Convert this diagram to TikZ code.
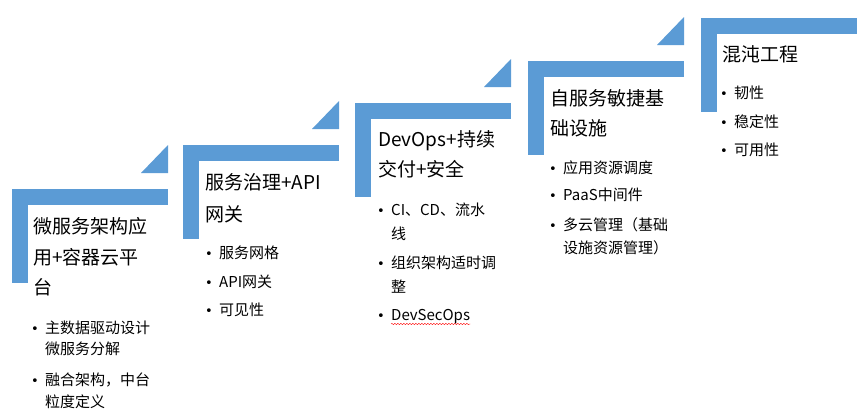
\documentclass[tikz,border=0pt]{standalone}
\usepackage{fontspec}
\setmainfont{Noto Sans CJK SC}
\newfontfamily\dotfont{DejaVu Sans}
\usetikzlibrary{decorations.pathmorphing}
\definecolor{stepblue}{HTML}{5B9BD5}
\newcommand{\bul}{\makebox[14pt][l]{\dotfont\fontsize{13}{13}\selectfont•}}

\begin{document}
\begin{tikzpicture}[x=1pt,y=-1pt,
  ttl/.style={anchor=west,inner sep=0pt,font=\fontsize{19}{19}\selectfont,text height=16pt,text depth=3pt},
  itm/.style={anchor=west,inner sep=0pt,font=\fontsize{15}{15}\selectfont,text height=12pt,text depth=2pt}]
  \useasboundingbox (0,0) rectangle (862,418);
  % blue steps
  \foreach \sx/\sy in {12/189,183/145,355/103,528/61,701/18}{
    \fill[stepblue] (\sx,\sy) rectangle ++(156,16);
    \fill[stepblue] (\sx,\sy) rectangle ++(16,94);
  }
  \foreach \sx/\sy in {12/189,183/145,355/103,528/61}
    \fill[stepblue] (\sx+156,\sy-16) -- ++(0,-28) -- ++(-27,28) -- cycle;

  % step 1
  \node[ttl] (t1a) at (33,227) {微服务架构应};
  \node[ttl] (t1b) at (33,258) {用+容器云平};
  \node[ttl] (t1c) at (33,288) {台};
  \node[itm] (i1a) at (31,328) {\bul 主数据驱动设计};
  \node[itm] (i1b) at (45,349) {微服务分解};
  \node[itm] (i1c) at (31,380) {\bul 融合架构，中台};
  \node[itm] (i1d) at (45,402) {粒度定义};

  % step 2
  \node[ttl] (t2a) at (205,183) {服务治理+API};
  \node[ttl] (t2b) at (205,215) {网关};
  \node[itm] (i2a) at (205,253) {\bul 服务网格};
  \node[itm] (i2b) at (205,282) {\bul API网关};
  \node[itm] (i2c) at (205,310) {\bul 可见性};

  % step 3
  \node[ttl] (t3a) at (378,140) {DevOps+持续};
  \node[ttl] (t3b) at (378,170) {交付+安全};
  \node[itm] (i3a) at (377,210) {\bul CI、CD、流水};
  \node[itm] (i3b) at (391,234) {线};
  \node[itm] (i3c) at (377,263) {\bul 组织架构适时调};
  \node[itm] (i3d) at (391,287) {整};
  \node[itm] (i3e) at (377,315) {\bul DevSecOps};
  \node[itm,anchor=base west] (dso) at (i3e.base west) {\phantom{\bul}\phantom{DevSecOps}};
  \draw[red,decorate,decoration={snake,amplitude=0.7pt,segment length=3pt}]
    ([xshift=14pt,yshift=-4pt]dso.base west) -- ([yshift=-4pt]dso.base east);

  % step 4
  \node[ttl] (t4a) at (550,99) {自服务敏捷基};
  \node[ttl] (t4b) at (550,129) {础设施};
  \node[itm] (i4a) at (549,168) {\bul 应用资源调度};
  \node[itm] (i4b) at (549,195) {\bul PaaS中间件};
  \node[itm] (i4c) at (549,225) {\bul 多云管理（基础};
  \node[itm] (i4d) at (563,248) {设施资源管理）};

  % step 5
  \node[ttl] (t5a) at (722,55) {混沌工程};
  \node[itm] (i5a) at (720,93) {\bul 韧性};
  \node[itm] (i5b) at (720,122) {\bul 稳定性};
  \node[itm] (i5c) at (720,150) {\bul 可用性};
\end{tikzpicture}
\end{document}
